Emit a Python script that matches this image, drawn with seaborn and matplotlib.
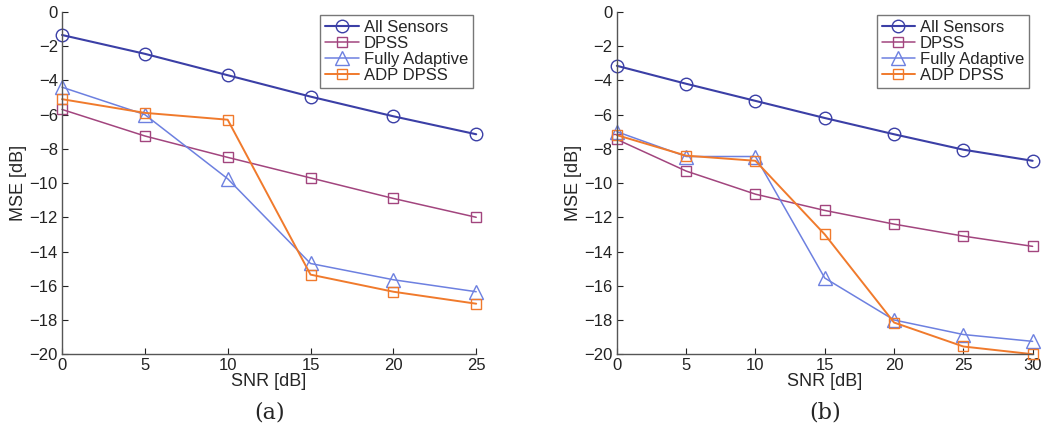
import numpy as np
import pandas as pd
import seaborn as sns
import matplotlib.pyplot as plt

sns.set_style("white")
plt.rcParams['font.family'] = ['Liberation Sans', 'DejaVu Sans']

# panel (a)
snr_a = [0, 5, 10, 15, 20, 25]
all_sensors_a = [-1.35, -2.45, -3.7, -4.95, -6.1, -7.15]
dpss_a = [-5.7, -7.25, -8.5, -9.7, -10.9, -12.0]
fully_adaptive_a = [-4.4, -6.0, -9.75, -14.7, -15.65, -16.35]
adp_dpss_a = [-5.1, -5.9, -6.3, -15.35, -16.35, -17.05]

# panel (b)
snr_b = [0, 5, 10, 15, 20, 25, 30]
all_sensors_b = [-3.15, -4.2, -5.2, -6.2, -7.15, -8.05, -8.7]
dpss_b = [-7.45, -9.3, -10.65, -11.6, -12.4, -13.1, -13.7]
fully_adaptive_b = [-7.0, -8.45, -8.45, -15.55, -18.0, -18.85, -19.25]
adp_dpss_b = [-7.2, -8.4, -8.7, -13.0, -18.15, -19.55, -20.0]

names = ["All Sensors", "DPSS", "Fully Adaptive", "ADP DPSS"]
colors = ["#3b3fa6", "#a2457e", "#6d80e0", "#f07a2c"]
markers = ["o", "s", "^", "s"]
msizes = [9, 7.5, 9.5, 7.5]
lws = [1.5, 1.1, 1.1, 1.4]

fig = plt.figure(figsize=(10.42, 4.4), dpi=100)
ax1 = fig.add_axes([0.0595, 0.195, 0.3975, 0.778])
ax2 = fig.add_axes([0.592, 0.195, 0.399, 0.778])

panels = [
    (ax1, snr_a, [all_sensors_a, dpss_a, fully_adaptive_a, adp_dpss_a], 25, "(a)"),
    (ax2, snr_b, [all_sensors_b, dpss_b, fully_adaptive_b, adp_dpss_b], 30, "(b)"),
]

for ax, snr, series, xmax, tag in panels:
    for name, vals, c, m, ms, lw in zip(names, series, colors, markers, msizes, lws):
        sns.lineplot(x=snr, y=vals, ax=ax, color=c, marker=m, markersize=ms,
                     markerfacecolor="none", markeredgecolor=c, markeredgewidth=1.0,
                     linewidth=lw, label=name, clip_on=False)
    ax.set_xlim(0, xmax)
    ax.set_ylim(-20, 0)
    ax.set_xticks(np.arange(0, xmax + 1, 5))
    ax.set_yticks(np.arange(-20, 1, 2))
    ax.set_yticklabels([f"\u2212{abs(v)}" if v < 0 else str(v) for v in range(-20, 1, 2)])
    ax.tick_params(direction="in", length=4, labelsize=12, colors="#222222",
                   left=True, bottom=True, pad=3)
    ax.set_xlabel("SNR [dB]", fontsize=13, labelpad=0)
    ax.set_ylabel("MSE [dB]", fontsize=13, labelpad=2)
    for s in ["top", "right"]:
        ax.spines[s].set_visible(False)
    for s in ["left", "bottom"]:
        ax.spines[s].set_color("#555555")
        ax.spines[s].set_linewidth(1.0)
    leg = ax.legend(loc="upper right", fontsize=12, frameon=True, fancybox=False,
                    borderpad=0.3, labelspacing=0.05, handlelength=2.0,
                    handletextpad=0.3, borderaxespad=0.2)
    leg.get_frame().set_edgecolor("#555555")
    leg.get_frame().set_linewidth(1.0)
    ax.text(0.5, -0.17, tag, transform=ax.transAxes, ha="center", va="center",
            fontsize=16, family="DejaVu Serif")

fig.savefig("out.png", dpi=100)
